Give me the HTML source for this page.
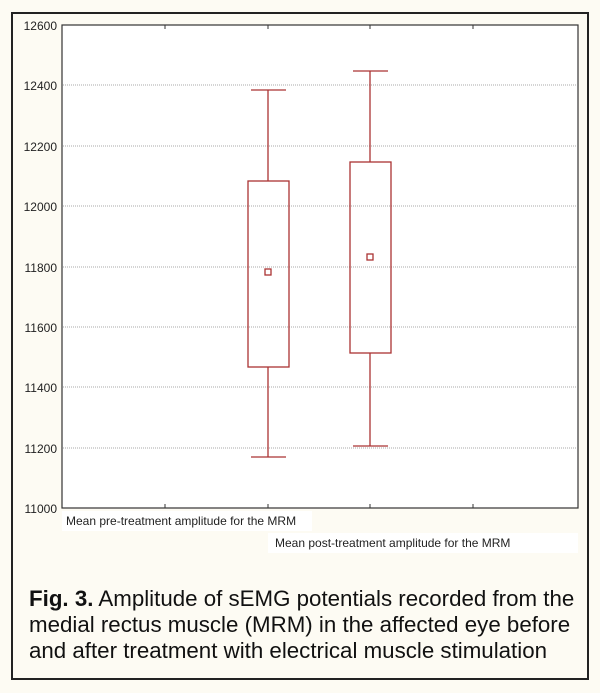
<!DOCTYPE html>
<html><head><style>
body{margin:0;width:600px;height:693px;background:#fdfbf3;position:relative;overflow:hidden;font-family:"Liberation Sans",sans-serif}
.frame{position:absolute;left:11px;top:12px;width:578px;height:668px;border:2px solid #222;box-sizing:border-box}
.cap{position:absolute;left:29px;top:586px;font-size:22.3px;line-height:26px;color:#111;white-space:nowrap}
</style></head><body>
<div class="frame"></div>
<svg width="600" height="693" style="position:absolute;left:0;top:0" font-family="Liberation Sans, sans-serif">
<rect x="62" y="25" width="516" height="483" fill="#fff" stroke="#333" stroke-width="1.2"/>
<g stroke="#aaa" stroke-dasharray="1,1" stroke-width="1">
<line x1="63" x2="577" y1="85" y2="85"/><line x1="63" x2="577" y1="146" y2="146"/>
<line x1="63" x2="577" y1="206" y2="206"/><line x1="63" x2="577" y1="267" y2="267"/>
<line x1="63" x2="577" y1="327" y2="327"/><line x1="63" x2="577" y1="387" y2="387"/>
<line x1="63" x2="577" y1="448" y2="448"/></g>
<g stroke="#333"><line x1="165" x2="165" y1="25" y2="29"/><line x1="268" x2="268" y1="25" y2="29"/><line x1="370" x2="370" y1="25" y2="29"/><line x1="473" x2="473" y1="25" y2="29"/>
<line x1="165" x2="165" y1="508" y2="504"/><line x1="268" x2="268" y1="508" y2="504"/><line x1="370" x2="370" y1="508" y2="504"/><line x1="473" x2="473" y1="508" y2="504"/></g>
<g font-size="12" fill="#222" text-anchor="end">
<text x="57" y="30">12600</text><text x="57" y="90">12400</text><text x="57" y="151">12200</text><text x="57" y="211">12000</text><text x="57" y="272">11800</text><text x="57" y="332">11600</text><text x="57" y="392">11400</text><text x="57" y="453">11200</text><text x="57" y="513">11000</text></g>
<g stroke="#a33" fill="none" stroke-width="1.3">
<line x1="268" x2="268" y1="90" y2="181"/><line x1="268" x2="268" y1="367" y2="457"/>
<line x1="251" x2="286" y1="90" y2="90"/><line x1="251" x2="286" y1="457" y2="457"/>
<rect x="248" y="181" width="41" height="186"/><rect x="265" y="269" width="6" height="6"/>
<line x1="370" x2="370" y1="71" y2="162"/><line x1="370" x2="370" y1="353" y2="446"/>
<line x1="353" x2="388" y1="71" y2="71"/><line x1="353" x2="388" y1="446" y2="446"/>
<rect x="350" y="162" width="41" height="191"/><rect x="367" y="254" width="6" height="6"/>
</g>
<rect x="62" y="511" width="250" height="20" fill="#fff"/>
<rect x="268" y="533" width="310" height="20" fill="#fff"/>
<g font-size="12" fill="#222">
<text x="66" y="525">Mean pre-treatment amplitude for the MRM</text>
<text x="275" y="547">Mean post-treatment amplitude for the MRM</text></g>
</svg>
<div class="cap"><b>Fig. 3.</b> Amplitude of sEMG potentials recorded from the<br>medial rectus muscle (MRM) in the affected eye before<br>and after treatment with electrical muscle stimulation</div>
</body></html>
